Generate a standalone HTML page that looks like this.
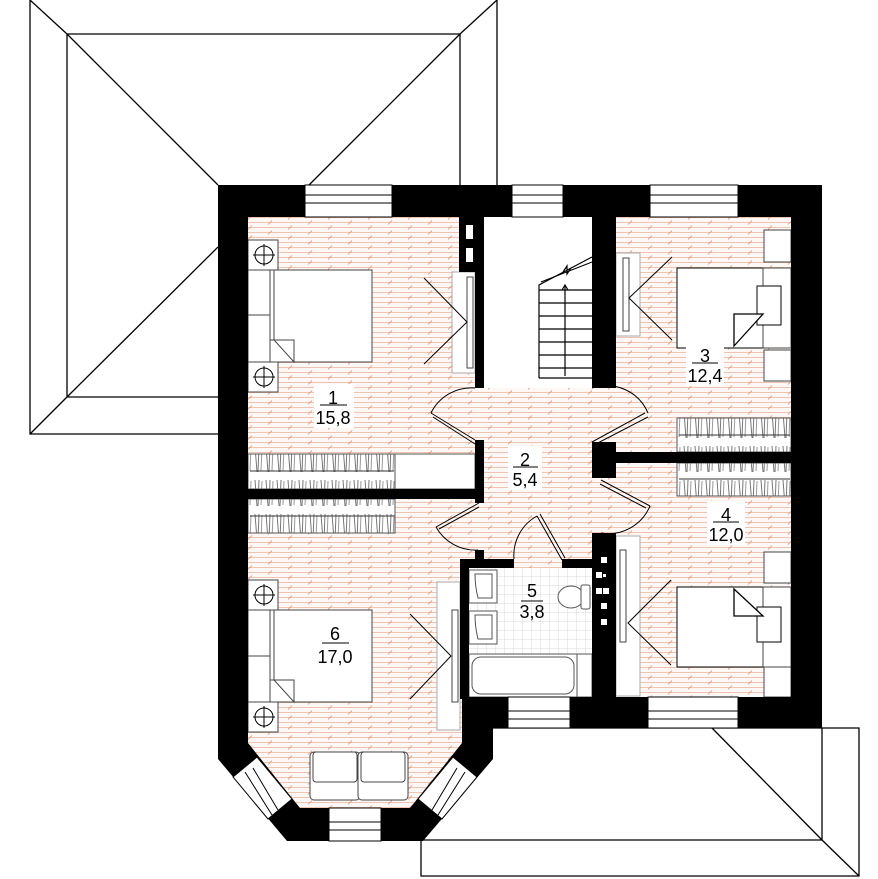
<!DOCTYPE html>
<html><head><meta charset="utf-8"><style>
html,body{margin:0;padding:0;background:#fff;}
svg{display:block;}
text{font-family:"Liberation Sans","DejaVu Sans",sans-serif;font-size:18px;fill:#000;}
</style></head><body>
<svg width="878" height="879" viewBox="0 0 878 879" xmlns="http://www.w3.org/2000/svg">
<defs>
<pattern id="fl" width="40" height="10" patternUnits="userSpaceOnUse">
<rect width="40" height="10" fill="#fdf8f5"/>
<line x1="0" y1="2.5" x2="40" y2="2.5" stroke="#eec4b1" stroke-width="1"/>
<line x1="0" y1="7.5" x2="40" y2="7.5" stroke="#eec4b1" stroke-width="1"/>
<line x1="8" y1="9.5" x2="12" y2="5.5" stroke="#d9916f" stroke-width="0.8"/>
<line x1="28" y1="4.5" x2="32" y2="0.5" stroke="#d9916f" stroke-width="0.8"/>
</pattern>
<pattern id="hg" width="11" height="34" patternUnits="userSpaceOnUse">
<line x1="2" y1="4" x2="4" y2="30" stroke="#777" stroke-width="1"/>
<line x1="6" y1="4" x2="5" y2="30" stroke="#777" stroke-width="1"/>
<line x1="9" y1="5" x2="8" y2="29" stroke="#999" stroke-width="1"/>
</pattern>
<pattern id="tl" width="9" height="9" patternUnits="userSpaceOnUse">
<rect width="9" height="9" fill="#fff"/>
<path d="M0 0H9M0 0V9" stroke="#d8d8d8" stroke-width="1"/>
</pattern>
</defs>
<g fill="none" stroke="#000" stroke-width="1.3">
<polyline points="218,434 30,434 30,0"/>
<line x1="497" y1="0" x2="497" y2="185"/>
<polyline points="218,397 67,397 67,34 460,34 460,185"/>
<line x1="30" y1="0" x2="67" y2="34"/>
<line x1="497" y1="0" x2="460" y2="34"/>
<line x1="30" y1="434" x2="67" y2="397"/>
<line x1="67" y1="34" x2="218" y2="185"/>
<line x1="460" y1="34" x2="309" y2="185"/>
<line x1="67" y1="397" x2="218" y2="247"/>
<polyline points="493,728 859,728 859,876 421,876 421,840 822,840 822,728"/>
<polyline points="712,728 822,840 859,876"/>
</g>
<path d="M248,217 H791 V697 H462 V743 L410,808 H300 L248,743 Z" fill="url(#fl)"/>
<rect x="484" y="217" width="108" height="171" fill="#fff"/>
<g stroke="#000" stroke-width="1.2" fill="none">
<path d="M539,378 V285 L592,257"/>
<line x1="539" y1="290" x2="592" y2="290"/>
<line x1="539" y1="303" x2="592" y2="303"/>
<line x1="539" y1="316" x2="592" y2="316"/>
<line x1="539" y1="329" x2="592" y2="329"/>
<line x1="539" y1="342" x2="592" y2="342"/>
<line x1="539" y1="355" x2="592" y2="355"/>
<line x1="539" y1="368" x2="592" y2="368"/>
<line x1="539" y1="378" x2="592" y2="378"/>
<line x1="565" y1="376" x2="565" y2="286"/>
<path d="M562,290 L565,285 L568,290"/>
<path d="M541,282 L592,262" stroke-width="1"/>
<path d="M563,272 L567,266 L567,274 L571,268"/>
</g>
<rect x="469" y="568" width="123" height="129" fill="url(#tl)"/>
<g fill="#fff" stroke="#555" stroke-width="1">
<rect x="469" y="570" width="28" height="33"/><path d="M475,574 H492 V598 H478 Q475,586 475,574Z"/>
<rect x="469" y="611" width="28" height="33"/><path d="M475,615 H492 V639 H478 Q475,627 475,615Z"/>
<rect x="469" y="654" width="108" height="43"/>
<rect x="472" y="657" width="102" height="37" rx="9"/>
<rect x="577" y="654" width="15" height="43"/>
<ellipse cx="571" cy="597" rx="13" ry="11"/>
<rect x="581" y="585" width="9" height="24" rx="2"/>
</g>
<g stroke="#555" stroke-width="1">
<rect x="248" y="454" width="147" height="35" fill="#fff"/>
<rect x="248" y="454" width="147" height="35" fill="url(#hg)"/>
<line x1="250" y1="471" x2="394" y2="471" stroke="#333"/>
<rect x="395" y="454" width="80" height="35" fill="#fff"/>
<rect x="248" y="499" width="147" height="34" fill="#fff"/>
<rect x="248" y="499" width="147" height="34" fill="url(#hg)"/>
<line x1="250" y1="516" x2="394" y2="516" stroke="#333"/>
<rect x="677" y="418" width="114" height="34" fill="#fff"/>
<rect x="677" y="418" width="114" height="34" fill="url(#hg)"/>
<line x1="679" y1="435" x2="790" y2="435" stroke="#333"/>
<rect x="677" y="463" width="114" height="33" fill="#fff"/>
<rect x="677" y="463" width="114" height="33" fill="url(#hg)"/>
<line x1="679" y1="479" x2="790" y2="479" stroke="#333"/>
</g>
<g fill="#fff" stroke="#444" stroke-width="1">
<rect x="248" y="240" width="30" height="30"/><rect x="248" y="362" width="30" height="30"/>
<rect x="248" y="270" width="22" height="92"/><line x1="248" y1="315" x2="270" y2="315"/>
<rect x="270" y="270" width="102" height="92"/>
<rect x="270" y="270" width="4" height="70"/>
<path d="M274,340 H294 V362 Z"/>
<rect x="248" y="580" width="30" height="30"/><rect x="248" y="702" width="30" height="30"/>
<rect x="248" y="610" width="22" height="92"/><line x1="248" y1="656" x2="270" y2="656"/>
<rect x="270" y="610" width="102" height="92"/>
<rect x="270" y="610" width="4" height="70"/>
<path d="M274,680 H294 V702 Z"/>
<rect x="764" y="230" width="27" height="32"/><rect x="764" y="350" width="27" height="31"/>
<rect x="677" y="268" width="114" height="80" stroke="#000"/>
<rect x="763" y="268" width="28" height="80"/>
<path d="M757,286 H781 V325 H757 Z" stroke="#000"/>
<path d="M734,346 V314 H763 Z" stroke="#000" stroke-width="1.3"/>
<rect x="764" y="552" width="27" height="31"/><rect x="764" y="667" width="27" height="30"/>
<rect x="677" y="587" width="114" height="80" stroke="#000"/>
<rect x="763" y="587" width="28" height="80"/>
<path d="M757,607 H781 V642 H757 Z" stroke="#000"/>
<path d="M734,589 V616 H763 Z" stroke="#000" stroke-width="1.3"/>
<rect x="452" y="272" width="23" height="101" fill="#fff" stroke="#aaa"/><rect x="467" y="277" width="6" height="91"/>
<rect x="437" y="582" width="23" height="148" stroke="#aaa"/><rect x="452" y="610" width="6" height="92"/>
<rect x="616" y="253" width="24" height="83" stroke="#aaa"/><rect x="623" y="258" width="6" height="73"/>
<rect x="616" y="536" width="24" height="160" stroke="#aaa"/><rect x="620" y="550" width="6" height="92"/>
<rect x="310" y="752" width="50" height="48" rx="4"/><rect x="313" y="752" width="44" height="30" rx="3"/>
<rect x="358" y="752" width="50" height="48" rx="4"/><rect x="361" y="752" width="44" height="30" rx="3"/>
</g>
<g stroke="#000" fill="none" stroke-width="1">
<polyline points="424,278 467,322 424,364"/>
<polyline points="410,614 451,656 410,699"/>
<polyline points="672,257 629,298 672,340"/>
<polyline points="671,580 628,623 671,665"/>
<circle cx="264" cy="255" r="9"/><circle cx="264" cy="377" r="9"/>
<circle cx="264" cy="595" r="9"/><circle cx="264" cy="717" r="9"/>
<path d="M264,244v22M253,255h22M264,366v22M253,377h22M264,584v22M253,595h22M264,706v22M253,717h22"/>
</g>
<g fill="#000">
<path d="M218,185 H822 V728 H493 V759 L423,841 H287 L218,759 Z M248,217 V743 L300,808 H410 L462,743 V697 H791 V217 Z" fill-rule="evenodd"/>
<rect x="459" y="217" width="25" height="55"/>
<rect x="475" y="217" width="9" height="171"/>
<rect x="592" y="217" width="24" height="171"/>
<rect x="475" y="440" width="9" height="63"/>
<rect x="248" y="489" width="236" height="10"/>
<rect x="475" y="550" width="9" height="18"/>
<rect x="460" y="559" width="54" height="9"/>
<rect x="562" y="559" width="54" height="9"/>
<rect x="460" y="559" width="9" height="140"/>
<rect x="592" y="533" width="24" height="166"/>
<rect x="592" y="442" width="24" height="36"/>
<rect x="616" y="452" width="175" height="11"/>
</g>
<g fill="#fff">
<rect x="466" y="225" width="7" height="14"/><rect x="466" y="248" width="7" height="14"/>
<rect x="601" y="557" width="6" height="6"/><rect x="596" y="572" width="6" height="6"/><rect x="603" y="574" width="3" height="3"/>
<rect x="596" y="588" width="6" height="6"/><rect x="603" y="588" width="6" height="6"/>
<rect x="601" y="603" width="6" height="6"/><rect x="601" y="619" width="6" height="6"/>
</g>
<g fill="#fff" stroke="#000" stroke-width="1">
<rect x="305" y="185" width="87" height="32"/><path d="M305,195H392M305,203H392"/>
<rect x="512" y="185" width="51" height="32"/><path d="M512,195H563M512,203H563"/>
<rect x="650" y="185" width="88" height="32"/><path d="M650,195H738M650,203H738"/>
<rect x="508" y="697" width="62" height="31"/><path d="M508,711H570M508,719H570"/>
<rect x="648" y="697" width="90" height="31"/><path d="M648,711H738M648,719H738"/>
<rect x="329" y="808" width="52" height="33"/><path d="M329,822H381M329,830H381"/>
<path d="M233,777 L257,757 L292,799 L268,819 Z"/>
<path d="M253,768 L278,810 M245,772 L272,815" />
<path d="M477,777 L453,757 L418,799 L442,819 Z"/>
<path d="M457,768 L432,810 M465,772 L438,815"/>
</g>
<g fill="none" stroke="#000" stroke-width="1">
<path d="M475,440 L431,413 M475,444 L433,417"/><path d="M431,413 A45,45 0 0 1 475,388"/>
<path d="M592,442 L645,413 M592,446 L648,417"/><path d="M648,413 A45,45 0 0 0 592,388"/>
<path d="M479,503 L436,527 M479,507 L439,529"/><path d="M436,527 A45,45 0 0 0 478,550"/>
<path d="M601,480 L650,506 M600,484 L646,508"/><path d="M650,506 A45,45 0 0 1 601,533"/>
<path d="M537,516 L562,560 M540,514 L565,558"/><path d="M537,516 A45,45 0 0 0 514,559"/>
</g>
<g>
<rect x="314" y="384" width="40" height="44" fill="#fff"/>
<text x="333" y="404" text-anchor="middle">1</text><line x1="320" y1="405" x2="347" y2="405" stroke="#000"/>
<text x="333" y="424" text-anchor="middle">15,8</text>
<rect x="508" y="446" width="34" height="44" fill="#fff"/>
<text x="525" y="466" text-anchor="middle">2</text><line x1="513" y1="467" x2="538" y2="467" stroke="#000"/>
<text x="525" y="486" text-anchor="middle">5,4</text>
<rect x="686" y="342" width="38" height="44" fill="#fff"/>
<text x="705" y="362" text-anchor="middle">3</text><line x1="692" y1="363" x2="718" y2="363" stroke="#000"/>
<text x="705" y="382" text-anchor="middle">12,4</text>
<rect x="707" y="501" width="38" height="44" fill="#fff"/>
<text x="726" y="521" text-anchor="middle">4</text><line x1="713" y1="522" x2="739" y2="522" stroke="#000"/>
<text x="726" y="541" text-anchor="middle">12,0</text>
<text x="532" y="597" text-anchor="middle">5</text><line x1="521" y1="601" x2="543" y2="601" stroke="#000"/>
<text x="532" y="618" text-anchor="middle">3,8</text>
<text x="335" y="640" text-anchor="middle">6</text><line x1="322" y1="643" x2="349" y2="643" stroke="#000"/>
<text x="335" y="663" text-anchor="middle">17,0</text>
</g>
</svg>
</body></html>
